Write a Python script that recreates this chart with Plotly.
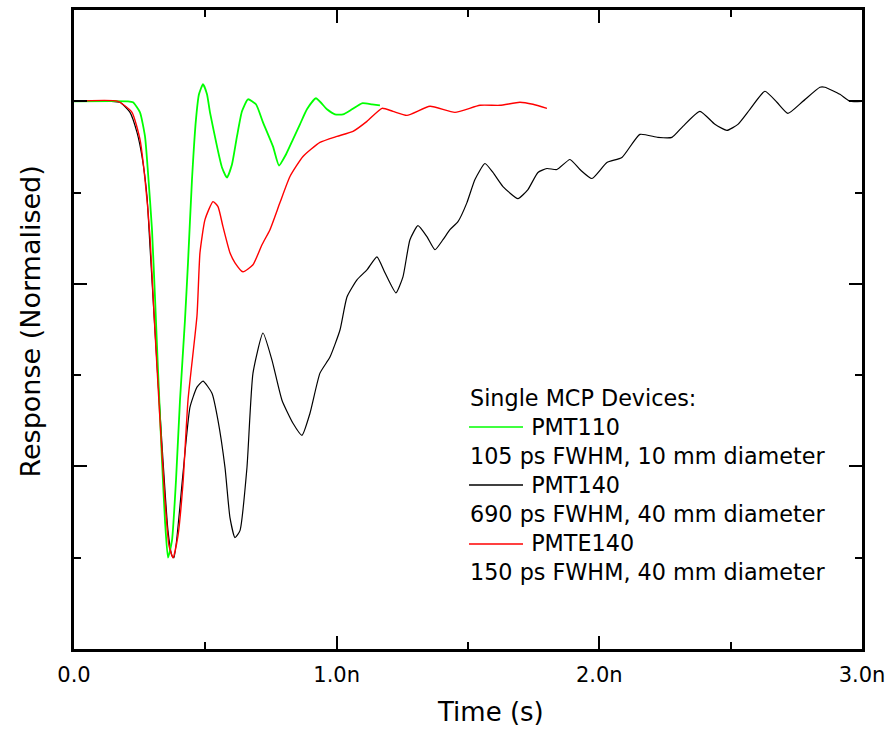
import plotly.graph_objects as go

# time in ns, response normalised so that the deepest dip is -1
t_pmt110 = [0.0, 0.2056, 0.2246, 0.2512, 0.2703, 0.2817, 0.2969, 0.3083, 0.3198, 0.3350, 0.3464,
            0.3578, 0.3730, 0.3883, 0.4035, 0.4225, 0.4340, 0.4492, 0.4644, 0.4758, 0.4911,
            0.5063, 0.5177, 0.5444, 0.5634, 0.5824, 0.6014, 0.6205, 0.6395, 0.6624, 0.6928,
            0.7195, 0.7575, 0.7804, 0.8070, 0.8337, 0.8603, 0.8869, 0.9212, 0.9631, 0.9935,
            1.0240, 1.0583, 1.0963, 1.1344, 1.1648]
r_pmt110 = [0.0, 0.0, -0.0022, -0.0242, -0.0769, -0.1560, -0.2813, -0.4286, -0.5890, -0.7868, -0.9187,
            -1.0, -0.9626, -0.8308, -0.6549, -0.4791, -0.3538, -0.1714, -0.0396, 0.0154, 0.0374,
            0.0154, -0.0242, -0.0989, -0.1451, -0.1670, -0.1385, -0.0769, -0.0220, 0.0044, -0.0066,
            -0.0462, -0.0989, -0.1407, -0.1165, -0.0835, -0.0505, -0.0176, 0.0066, -0.0176, -0.0286,
            -0.0286, -0.0176, -0.0044, -0.0066, -0.0088]

t_pmt140 = [0.0, 0.1370, 0.1751, 0.2132, 0.2398, 0.2589, 0.2779, 0.2893, 0.3007, 0.3198, 0.3388,
            0.3578, 0.3730, 0.3807, 0.4149, 0.4416, 0.4682, 0.4911, 0.5253, 0.5482, 0.5748,
            0.5938, 0.6129, 0.6319, 0.6585, 0.6814, 0.7195, 0.7537, 0.7918, 0.8337, 0.8679,
            0.8984, 0.9364, 0.9745, 1.0126, 1.0392, 1.0773, 1.1153, 1.1534, 1.1839, 1.2257,
            1.2524, 1.2790, 1.3095, 1.3437, 1.3742, 1.4047, 1.4313, 1.4618, 1.4960, 1.5265,
            1.5645, 1.5950, 1.6331, 1.6902, 1.7282, 1.7663, 1.8005, 1.8386, 1.8881, 1.9262,
            1.9718, 2.0289, 2.0860, 2.1546, 2.2231, 2.2764, 2.3182, 2.3829, 2.4400, 2.4857,
            2.5276, 2.5733, 2.6304, 2.6761, 2.7179, 2.7751, 2.8398, 2.8588, 2.9159, 2.9540, 3.0]
r_pmt140 = [0.0, 0.0, -0.0022, -0.0242, -0.0681, -0.1209, -0.2088, -0.3187, -0.4286, -0.6110, -0.7868,
            -0.9407, -0.9956, -1.0, -0.8154, -0.6703, -0.6264, -0.6132, -0.6396, -0.6989, -0.8022,
            -0.9121, -0.9560, -0.9407, -0.8022, -0.5956, -0.5077, -0.5670, -0.6549, -0.7055, -0.7319,
            -0.6835, -0.5956, -0.5604, -0.5011, -0.4286, -0.3912, -0.3692, -0.3407, -0.3758, -0.4198,
            -0.3846, -0.3033, -0.2725, -0.2967, -0.3253, -0.3033, -0.2813, -0.2637, -0.2220, -0.1714,
            -0.1363, -0.1560, -0.1868, -0.2132, -0.1934, -0.1560, -0.1473, -0.1495, -0.1275, -0.1495,
            -0.1692, -0.1341, -0.1231, -0.0725, -0.0791, -0.0791, -0.0549, -0.0220, -0.0505, -0.0637,
            -0.0505, -0.0176, 0.0220, -0.0022, -0.0264, 0.0, 0.0308, 0.0308, 0.0154, 0.0, 0.0]

t_pmte140 = [0.0, 0.1675, 0.2208, 0.2512, 0.2703, 0.2893, 0.3045, 0.3274, 0.3464, 0.3616, 0.3769,
             0.3959, 0.4149, 0.4340, 0.4682, 0.4796, 0.4987, 0.5291, 0.5482, 0.5672, 0.5938,
             0.6129, 0.6433, 0.6814, 0.7157, 0.7461, 0.7842, 0.8222, 0.8717, 0.9364, 1.0011,
             1.0621, 1.1153, 1.1725, 1.2143, 1.2676, 1.3552, 1.4503, 1.5455, 1.6216, 1.6978,
             1.7472, 1.8005]
r_pmte140 = [0.0, 0.0, -0.0242, -0.0835, -0.1714, -0.2967, -0.4637, -0.6989, -0.8747, -0.9736, -1.0,
             -0.9516, -0.8374, -0.6549, -0.4700, -0.3319, -0.2593, -0.2198, -0.2308, -0.2747, -0.3319,
             -0.3538, -0.3736, -0.3582, -0.3143, -0.2813, -0.2220, -0.1648, -0.1209, -0.0901, -0.0769,
             -0.0659, -0.0440, -0.0154, -0.0220, -0.0308, -0.0110, -0.0242, -0.0088, -0.0088, -0.0022,
             -0.0066, -0.0154]

x_tickvals = [0, 1, 2, 3]
x_ticktext = ["0.0", "1.0n", "2.0n", "3.0n"]

legend_title = "Single MCP Devices:"
legend_rows = [
    ("PMT110", "105 ps FWHM, 10 mm diameter", "#00ff00"),
    ("PMT140", "690 ps FWHM, 40 mm diameter", "black"),
    ("PMTE140", "150 ps FWHM, 40 mm diameter", "#ff0000"),
]

FONT = "DejaVu Sans, Liberation Sans, sans-serif"

fig = go.Figure()
fig.add_trace(go.Scatter(x=t_pmt140, y=r_pmt140, mode="lines",
                         line=dict(color="black", width=1.2, shape="spline", smoothing=0.5)))
fig.add_trace(go.Scatter(x=t_pmt110, y=r_pmt110, mode="lines",
                         line=dict(color="#00ff00", width=1.8, shape="spline", smoothing=0.5)))
fig.add_trace(go.Scatter(x=t_pmte140, y=r_pmte140, mode="lines",
                         line=dict(color="#ff0000", width=1.4, shape="spline", smoothing=0.5)))

axis_common = dict(
    showline=True, linecolor="black", linewidth=2.5, mirror="ticks",
    ticks="inside", ticklen=13, tickwidth=2, tickcolor="black",
    showgrid=False, zeroline=False, automargin=False,
)

fig.update_layout(
    width=887, height=729,
    margin=dict(l=74, r=25, t=10, b=80),
    plot_bgcolor="white", paper_bgcolor="white",
    showlegend=False,
    font=dict(family=FONT, color="black"),
    xaxis=dict(
        axis_common, range=[0, 3], tickvals=x_tickvals, ticktext=x_ticktext,
        tickfont=dict(size=21), ticklabelstandoff=5,
        minor=dict(dtick=0.5, ticks="inside", ticklen=7, tickwidth=2, tickcolor="black"),
    ),
    yaxis=dict(
        axis_common, range=[-1.2, 0.2], tick0=0, dtick=0.4, showticklabels=False,
        minor=dict(dtick=0.2, ticks="inside", ticklen=7, tickwidth=2, tickcolor="black"),
    ),
)

# axis titles, placed where the original has them
fig.add_annotation(xref="paper", yref="paper", x=0.528, y=-0.0986, xanchor="center", yanchor="middle",
                   text="Time (s)", showarrow=False, font=dict(size=26))
fig.add_annotation(xref="paper", yref="paper", x=-0.0558, y=0.5125, xanchor="center", yanchor="middle",
                   text="Response (Normalised)", textangle=-90, showarrow=False, font=dict(size=27))

# hand-made legend: one text block, line samples beside the device names
indent = "&nbsp;" * 8 + "&#8201;"
lines = [legend_title]
for name, desc, _ in legend_rows:
    lines += [indent + name, desc]
fig.add_annotation(xref="paper", yref="paper", x=0.4995, y=0.2574, xanchor="left", yanchor="middle",
                   align="left", text="<br>".join(lines), showarrow=False, font=dict(size=22.3))
row_y = [0.3474, 0.2567, 0.1643]
for (_, _, color), yl in zip(legend_rows, row_y):
    fig.add_shape(type="line", xref="paper", yref="paper", x0=0.5013, x1=0.5698, y0=yl, y1=yl,
                  line=dict(color=color, width=1.4))

# drop the default page margin so the figure sits at the window's corner
fig.write_html("out.html", config={"displayModeBar": False}, post_script=(
    "document.body.style.margin='0';"
    "document.documentElement.style.overflow='hidden';"
))
